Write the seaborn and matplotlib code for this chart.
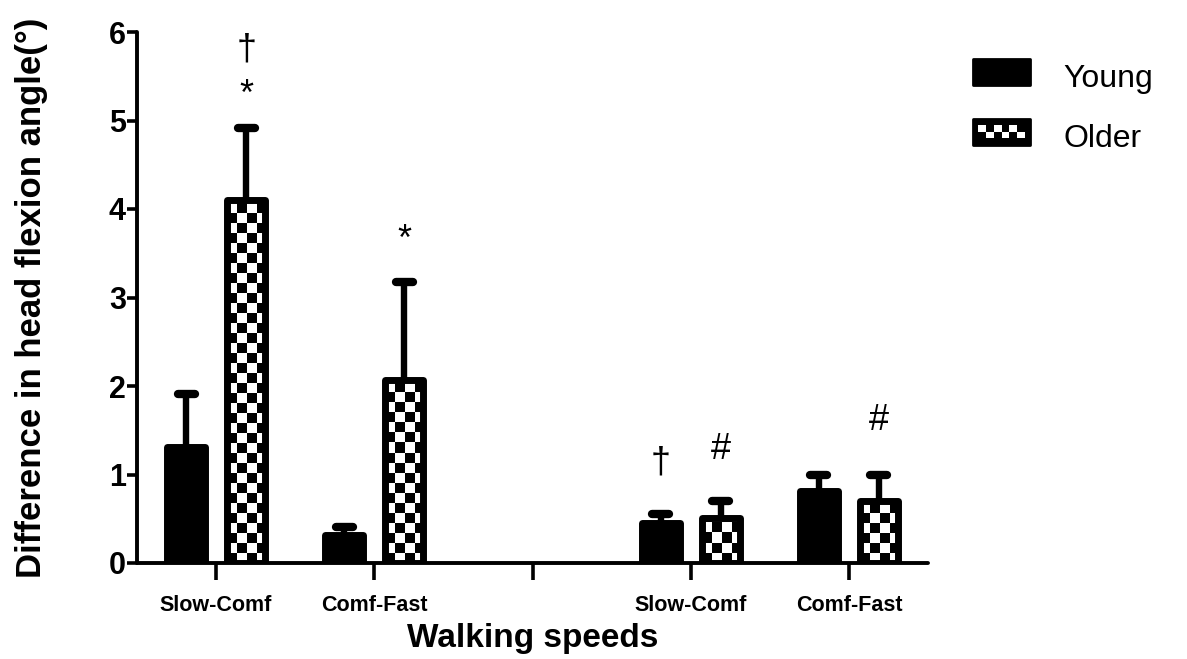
import numpy as np
import pandas as pd
import matplotlib
matplotlib.use("Agg")
import matplotlib.pyplot as plt
import seaborn as sns
from matplotlib.patches import Rectangle
from matplotlib.legend_handler import HandlerBase

# ---------------- data ----------------
cat_keys = ["g1_slow", "g1_fast", "gap", "g2_slow", "g2_fast"]
tick_labels = ["Slow-Comf", "Comf-Fast", "", "Slow-Comf", "Comf-Fast"]
groups = ["Young", "Older"]
young_mean = [1.31, 0.32, None, 0.45, 0.81]
young_sd = [0.60, 0.09, None, 0.10, 0.19]
older_mean = [4.10, 2.07, None, 0.51, 0.70]
older_sd = [0.82, 1.11, None, 0.19, 0.30]
y_ticks = [0, 1, 2, 3, 4, 5, 6]
annot_cat = ["g1_slow", "g1_slow", "g1_fast", "g2_slow", "g2_slow", "g2_fast"]
annot_group = ["Older", "Older", "Older", "Young", "Older", "Older"]
annot_text = ["\u2020", "*", "*", "\u2020", "#", "#"]
annot_size = [26, 26, 26, 26, 26, 26]
annot_y = [5.80, 5.28, 3.64, 1.13, 1.28, 1.61]

rows = []
for k, ym, ys, om, os_ in zip(cat_keys, young_mean, young_sd, older_mean, older_sd):
    if ym is not None:
        rows.append(dict(speed=k, group="Young", value=ym, sd=ys))
        rows.append(dict(speed=k, group="Older", value=om, sd=os_))
df = pd.DataFrame(rows)

sns.set_theme(style="ticks")
plt.rcParams["font.family"] = ["Liberation Sans", "DejaVu Sans"]
plt.rcParams["text.color"] = "black"
plt.rcParams["axes.labelcolor"] = "black"
plt.rcParams["xtick.color"] = "black"
plt.rcParams["ytick.color"] = "black"

W, H, DPI = 1187, 659, 100
fig = plt.figure(figsize=(W / DPI, H / DPI), dpi=DPI)
ax = fig.add_axes([137 / W, (H - 563) / H, (928 - 137) / W, (563 - 32) / H])

EDGE = 5.0
sns.barplot(data=df, x="speed", y="value", hue="group", order=cat_keys,
            hue_order=groups, palette={"Young": "black", "Older": "white"},
            edgecolor="black", linewidth=EDGE, width=0.76, gap=0.37,
            errorbar=None, legend=False, ax=ax, zorder=3)

ax.set_xlim(-0.5, 4.5)
ax.set_ylim(0, 6)
ax.set_yticks(y_ticks)
ax.set_xticks(range(len(cat_keys)))
ax.set_xticklabels(tick_labels)

# pixel size of data units
p0 = ax.transData.transform((0, 0))
p1 = ax.transData.transform((1, 1))
px_x = p1[0] - p0[0]
px_y = p1[1] - p0[1]
cell = 10.0
cdx, cdy = cell / px_x, cell / px_y
cap_half = 8.5 / px_x

sd_lookup = {(r.speed, r.group): r.sd for r in df.itertuples()}
centers = {}
for patch in list(ax.patches):
    x0 = patch.get_x()
    w = patch.get_width()
    h = patch.get_height()
    xc = x0 + w / 2
    cat = cat_keys[int(round(xc))]
    fc = patch.get_facecolor()
    grp = "Older" if fc[0] > 0.5 else "Young"
    centers[(cat, grp)] = xc
    patch.set_joinstyle("round")
    sd = sd_lookup[(cat, grp)]
    ax.vlines(xc, h, h + sd, colors="black", linewidth=4.6, zorder=2)
    caps = ax.hlines(h + sd, xc - cap_half, xc + cap_half, colors="black",
                     linewidth=6.0, zorder=2)
    caps.set_capstyle("round")
    if grp == "Older":
        ncol = int(np.ceil(w / cdx)) + 1
        nrow = int(np.ceil(h / cdy)) + 1
        chk = (np.add.outer(np.arange(nrow), np.arange(ncol)) % 2).astype(float)
        im = ax.imshow(chk, cmap="gray", vmin=0, vmax=1, origin="lower",
                       interpolation="nearest", aspect="auto",
                       extent=[x0, x0 + ncol * cdx, 0, nrow * cdy], zorder=2.5)
        im.set_clip_path(patch)
        patch.set_facecolor("none")

ax.set_xlim(-0.5, 4.5)
ax.set_ylim(0, 6)

for c, g, t, yv, fs in zip(annot_cat, annot_group, annot_text, annot_y, annot_size):
    ax.text(centers[(c, g)], yv, t, ha="center", va="center", fontsize=fs,
            color="black", zorder=5)

sns.despine(ax=ax)
for s in ["left", "bottom"]:
    ax.spines[s].set_linewidth(2.8)
    ax.spines[s].set_color("black")
    ax.spines[s].set_capstyle("round")
ax.tick_params(axis="y", length=7, width=2.6, labelsize=22, pad=1, colors="black")
ax.tick_params(axis="x", length=12, width=2.6, labelsize=15.5, pad=11, colors="black")
for lab in ax.get_yticklabels() + ax.get_xticklabels():
    lab.set_fontweight("bold")

ax.set_xlabel("Walking speeds", fontsize=24, fontweight="bold", labelpad=5)
ax.set_ylabel("Difference in head flexion angle(\u00b0)", fontsize=25,
              fontweight="bold", labelpad=44)


class SolidHandler(HandlerBase):
    def create_artists(self, legend, orig, xd, yd, width, height, fontsize, trans):
        r = Rectangle((xd, yd), width, height, facecolor="black",
                      edgecolor="black", linewidth=2, joinstyle="round",
                      transform=trans)
        return [r]


class CheckerHandler(HandlerBase):
    def create_artists(self, legend, orig, xd, yd, width, height, fontsize, trans):
        arts = [Rectangle((xd, yd), width, height, facecolor="black",
                          edgecolor="black", linewidth=2, joinstyle="round",
                          transform=trans)]
        ncol = 6
        cw = (width * 0.82) / ncol
        ch = height * 0.24
        x_start = xd + width * 0.09
        y_mid = yd + height * 0.5
        for i in range(ncol):
            yy = y_mid if i % 2 == 0 else y_mid - ch
            arts.append(Rectangle((x_start + i * cw, yy), cw, ch,
                                  facecolor="white", edgecolor="none",
                                  transform=trans))
        return arts


h_young = Rectangle((0, 0), 1, 1)
h_older = Rectangle((0, 0), 1, 1)
fig.legend([h_young, h_older], groups,
           handler_map={h_young: SolidHandler(), h_older: CheckerHandler()},
           loc="upper left", bbox_to_anchor=(960 / W, 1 - 50 / H),
           frameon=False, fontsize=23, handlelength=1.8, handleheight=0.88,
           handletextpad=1.05, labelspacing=0.9, borderaxespad=0)

fig.savefig("out.png", dpi=DPI)
